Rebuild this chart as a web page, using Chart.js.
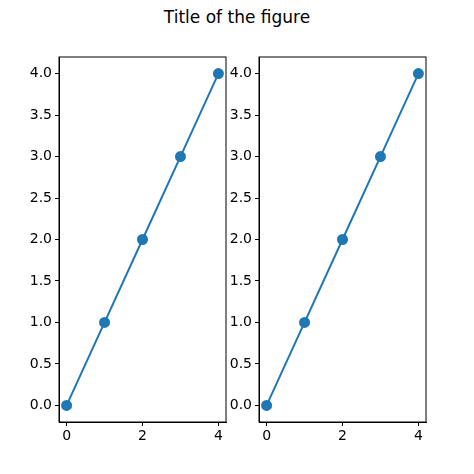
<!DOCTYPE html>
<html><head><meta charset="utf-8">
<script src="https://cdn.jsdelivr.net/npm/chart.js@4"></script>
<style>
body{margin:0;width:474px;height:474px;background:#fff;position:relative;overflow:hidden;font-family:"DejaVu Sans";}
#t{position:absolute;top:7px;left:0;width:474px;text-align:center;font-size:17px;color:#000;}
.c{position:absolute;top:0;}
</style></head><body>
<div id="t">Title of the figure</div>
<div class="c" style="left:0;width:240px;height:474px"><canvas id="a"></canvas></div>
<div class="c" style="left:200px;width:274px;height:474px"><canvas id="b"></canvas></div>
<script>
const xValues=[0,1,2,3,4];
const yValues=[0,1,2,3,4];
const yTicks=[0,0.5,1,1.5,2,2.5,3,3.5,4];
const xTicks=[0,2,4];
const frame={id:'frame',afterDraw(c){const a=c.chartArea,x=c.ctx;x.save();x.strokeStyle='#000';x.lineWidth=1;x.strokeRect(a.left,a.top,a.right-a.left,a.bottom-a.top);x.restore();}};
function make(id,rightPad){
 new Chart(document.getElementById(id),{type:'line',
  data:{datasets:[{data:xValues.map((v,i)=>({x:v,y:yValues[i]})),borderColor:'#1f77b4',backgroundColor:'#1f77b4',borderWidth:2,pointRadius:4.5,pointHoverRadius:4.5}]},
  options:{responsive:true,maintainAspectRatio:false,animation:false,
   layout:{padding:{top:57,right:rightPad,left:0,bottom:0}},
   plugins:{legend:{display:false},tooltip:{enabled:false}},
   scales:{
    x:{type:'linear',min:-0.2,max:4.2,afterBuildTicks:s=>{s.ticks=xTicks.map(v=>({value:v}))},afterFit:s=>{s.height=52},
     grid:{drawOnChartArea:false,tickLength:4,color:'#000'},border:{color:'#000'},
     ticks:{color:'#000',font:{family:'DejaVu Sans',size:14},padding:2,callback:v=>String(v)}},
    y:{type:'linear',min:-0.2,max:4.2,afterBuildTicks:s=>{s.ticks=yTicks.map(v=>({value:v}))},afterFit:s=>{s.width=59},
     grid:{drawOnChartArea:false,tickLength:4,color:'#000'},border:{color:'#000'},
     ticks:{color:'#000',font:{family:'DejaVu Sans',size:14},padding:3,callback:v=>Number(v).toFixed(1)}}
   }},plugins:[frame]});
}
make('a',14);
make('b',48);
</script></body></html>
